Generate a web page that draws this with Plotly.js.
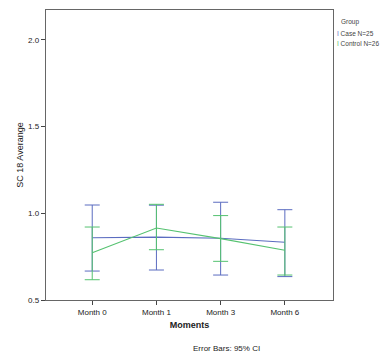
<!DOCTYPE html>
<html>
<head>
<meta charset="utf-8">
<script src="https://cdn.plot.ly/plotly-3.0.1.min.js"></script>
<style>html,body{margin:0;padding:0;background:#fff;}#chart{width:386px;height:359px;}</style>
</head>
<body>
<div id="chart"></div>
<script>
var moments = ["Month 0", "Month 1", "Month 3", "Month 6"];
var caseMean = [0.859, 0.863, 0.856, 0.833];
var caseUpper = [1.048, 1.047, 1.064, 1.021];
var caseLower = [0.667, 0.673, 0.644, 0.635];
var controlMean = [0.773, 0.915, 0.854, 0.787];
var controlUpper = [0.921, 1.052, 0.987, 0.921];
var controlLower = [0.617, 0.790, 0.723, 0.644];
var caseName = "Case N=25";
var controlName = "Control N=26";

var blue = "#5b6cc0", green = "#55c270";
function plus(u, m) { return u.map(function (v, i) { return v - m[i]; }); }
function minus(l, m) { return l.map(function (v, i) { return m[i] - v; }); }

var traces = [
  {
    x: moments, y: caseMean, type: "scatter", mode: "lines", name: caseName,
    line: { color: blue, width: 1.1 },
    error_y: { type: "data", symmetric: false, array: plus(caseUpper, caseMean), arrayminus: minus(caseLower, caseMean), color: blue, thickness: 1, width: 7.5 }
  },
  {
    x: moments, y: controlMean, type: "scatter", mode: "lines", name: controlName,
    line: { color: green, width: 1.1 },
    error_y: { type: "data", symmetric: false, array: plus(controlUpper, controlMean), arrayminus: minus(controlLower, controlMean), color: green, thickness: 1, width: 7.5 }
  }
];

var font = "Liberation Sans, Arial, sans-serif";
var layout = {
  width: 386, height: 359,
  margin: { l: 46, r: 53, t: 10, b: 59 },
  paper_bgcolor: "#fff", plot_bgcolor: "#fff",
  showlegend: false,
  font: { family: font, size: 8, color: "#222" },
  xaxis: {
    type: "category", range: [-0.72, 3.75],
    showline: true, mirror: true, linecolor: "#666", linewidth: 1.2,
    showgrid: false, zeroline: false,
    ticks: "outside", ticklen: 4, tickcolor: "#444",
    tickfont: { size: 8, color: "#222" },
    title: { text: "<b>Moments</b>", font: { size: 9, color: "#222" }, standoff: 6 }
  },
  yaxis: {
    range: [0.5, 2.173],
    tickvals: [0.5, 1.0, 1.5, 2.0], ticktext: ["0.5", "1.0", "1.5", "2.0"],
    showline: true, mirror: true, linecolor: "#666", linewidth: 1.2,
    showgrid: false, zeroline: false,
    ticks: "outside", ticklen: 4, tickcolor: "#444",
    tickfont: { size: 8, color: "#222" },
    title: { text: "SC 18 Averange", font: { size: 9, color: "#222" }, standoff: 3 }
  },
  annotations: [
    { xref: "paper", yref: "paper", x: 0.5, y: 0, xshift: 37, yshift: -48, xanchor: "center", yanchor: "middle",
      text: "Error Bars: 95% CI", showarrow: false, font: { size: 8, color: "#222" } },
    { xref: "paper", yref: "paper", x: 1, y: 1, xshift: 6, yshift: -12, xanchor: "left", yanchor: "middle",
      text: "Group", showarrow: false, font: { size: 6.5, color: "#444" } },
    { xref: "paper", yref: "paper", x: 1, y: 1, xshift: 2, yshift: -23, xanchor: "left", yanchor: "middle",
      text: '<span style="color:' + blue + '">I</span> ' + caseName, showarrow: false, font: { size: 6.5, color: "#444" } },
    { xref: "paper", yref: "paper", x: 1, y: 1, xshift: 2, yshift: -33, xanchor: "left", yanchor: "middle",
      text: '<span style="color:' + green + '">I</span> ' + controlName, showarrow: false, font: { size: 6.5, color: "#444" } }
  ]
};

Plotly.newPlot("chart", traces, layout, { displayModeBar: false, staticPlot: true });
</script>
</body>
</html>
